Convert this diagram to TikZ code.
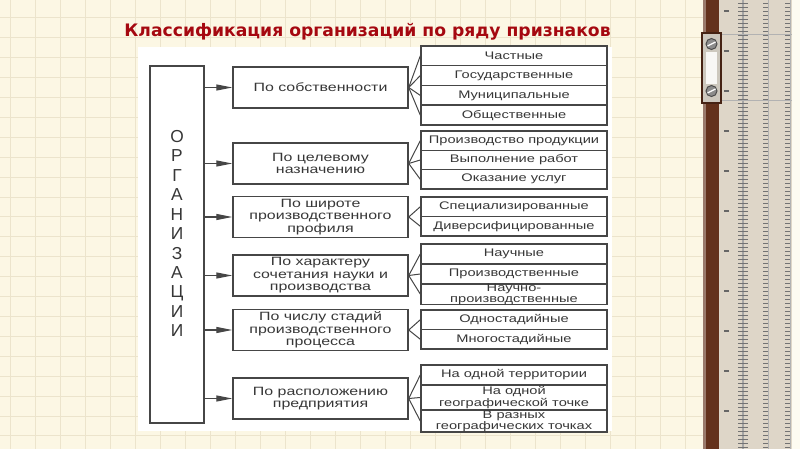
\documentclass[tikz,border=0pt]{standalone}
\usepackage{fontspec}
\setmainfont{Liberation Sans}
\newfontfamily\boxfont[FakeStretch=1.33]{Liberation Sans}
\newfontfamily\titlefont{DejaVu Sans}
\usetikzlibrary{arrows.meta}

\definecolor{paper}{RGB}{252,247,228}
\definecolor{gridcol}{RGB}{236,228,204}
\definecolor{boxline}{RGB}{70,70,70}
\definecolor{boxtext}{RGB}{55,55,55}
\definecolor{titlered}{RGB}{165,8,16}
\definecolor{rulerbrown}{RGB}{100,50,28}
\definecolor{rulerbody}{RGB}{222,214,200}
\definecolor{clipgray}{RGB}{205,200,190}

\tikzset{every picture/.style={line width=0.75pt}}
\tikzset{
  critbox/.style={draw=boxline, line width=1.1pt, minimum width=131.25pt, minimum height=30.75pt, inner sep=0pt, align=center, text=boxtext, font=\boxfont\fontsize{9}{9.3}\selectfont},
  itembox/.style={draw=boxline, line width=1.1pt, minimum width=139.5pt, minimum height=14.8pt, inner sep=0pt, align=center, text=boxtext, font=\boxfont\fontsize{8.25}{8.4}\selectfont},
  feed/.style={draw=boxline, line width=0.8pt, -{Triangle[length=12pt,width=4.5pt]}},
  fan/.style={draw=boxline, line width=0.75pt},
  rulertick/.style={draw=black!55, line width=0.4pt}
}

\begin{document}
\begin{tikzpicture}[x=0.75pt,y=0.75pt,yscale=-1,xscale=1]
\useasboundingbox (0,0) rectangle (800,449);

%Background: squared paper
\fill[paper] (0,0) rectangle (800,449);
\foreach \x in {10,35,...,785} \draw[gridcol] (\x,0) -- (\x,449);
\foreach \k in {0,...,21} \draw[gridcol] (0,18+19.9*\k) -- (800,18+19.9*\k);

%Shape: Rect [white sheet]
\fill[white] (138,47) rectangle (612,431);

%Shape: ruler on the right
\fill[rulerbrown] (703,0) rectangle (719,449);
\fill[rulerbrown!65!white] (703,0) rectangle (705.5,449);
\fill[rulerbody] (719,0) rectangle (792,449);
\fill[paper!50!white] (792,0) rectangle (800,449);
\draw[black!35, line width=1.2pt] (743,0) -- (743,449);
\draw[black!30] (768,0) -- (768,449);
\draw[black!30] (790,0) -- (790,449);
\draw[black!30] (719,35) -- (792,35);
\draw[black!30] (719,101) -- (792,101);
\foreach \y in {3,7,...,449} {
  \draw[rulertick] (738,\y) -- (748,\y);
  \draw[rulertick] (763,\y) -- (768,\y);
  \draw[rulertick] (785,\y) -- (790,\y);
}
\foreach \y in {11,51,...,449} \draw[black!60, line width=1.2pt] (724,\y) -- (729,\y);
%Shape: clip with two screws
\draw[draw=rulerbrown!70!black, fill=clipgray, line width=0.8pt] (702,33) rectangle (721,103);
\fill[white!85!clipgray] (706,52) rectangle (717,84);
\draw[fill=black!45, draw=black!70] (711.5,44) circle (5.5);
\draw[fill=black!45, draw=black!70] (711.5,91) circle (5.5);
\draw[white, line width=1pt] (707.5,46) -- (715.5,42);
\draw[white, line width=1pt] (707.5,93) -- (715.5,89);

% Text Node
\node (title) [text=titlered, font=\titlefont\bfseries\fontsize{12.9}{15}\selectfont] at (367.5,32) {Классификация организаций по ряду признаков};

%Shape: Rect [organizations]
\node (org) [draw=boxline, line width=1.1pt, minimum width=40.5pt, minimum height=267.75pt, inner sep=0pt] at (177,244.5) {};
% Text Node
\node (orgname) [align=center, text=boxtext, font=\fontsize{13}{14.6}\selectfont] at (177,233.5) {О\\Р\\Г\\А\\Н\\И\\З\\А\\Ц\\И\\И};

% Criteria
\node (byOwner) [critbox] at (320.5,87.5) {По собственности};
\node (byPurpose) [critbox] at (320.5,163.5) {По целевому\\назначению};
\node (byProfile) [critbox] at (320.5,217) {По широте\\производственного\\профиля};
\node (byScience) [critbox] at (320.5,275.5) {По характеру\\сочетания науки и\\производства};
\node (byStages) [critbox] at (320.5,330) {По числу стадий\\производственного\\процесса};
\node (byPlace) [critbox] at (320.5,398.5) {По расположению\\предприятия};

% Kinds
\node (owner1) [itembox] at (514,55.9) {Частные};
\node (owner2) [itembox] at (514,75.6) {Государственные};
\node (owner3) [itembox] at (514,95.4) {Муниципальные};
\node (owner4) [itembox] at (514,115.1) {Общественные};

\node (purpose1) [itembox, minimum height=14.5pt] at (514,140.7) {Производство продукции};
\node (purpose2) [itembox, minimum height=14.5pt] at (514,160) {Выполнение работ};
\node (purpose3) [itembox, minimum height=14.5pt] at (514,179.3) {Оказание услуг};

\node (profile1) [itembox, minimum height=14.6pt] at (514,206.75) {Специализированные};
\node (profile2) [itembox, minimum height=14.6pt] at (514,226.25) {Диверсифицированные};

\node (science1) [itembox, minimum height=15pt] at (514,254) {Научные};
\node (science2) [itembox, minimum height=15pt] at (514,274) {Производственные};
\node (science3) [itembox, minimum height=15pt] at (514,294) {Научно-\\производственные};

\node (stages1) [itembox, minimum height=14.6pt] at (514,319.75) {Одностадийные};
\node (stages2) [itembox, minimum height=14.6pt] at (514,339.25) {Многостадийные};

\node (place1) [itembox, minimum height=15pt] at (514,375) {На одной территории};
\node (place2) [itembox, minimum height=18.75pt] at (514,397.5) {На одной\\географической точке};
\node (place3) [itembox, minimum height=16.5pt] at (514,421) {В разных\\географических точках};

%Straight Lines [arrows]
\foreach \c in {byOwner,byPurpose,byProfile,byScience,byStages,byPlace}
  \draw[feed] (org.east |- \c.west) -- (\c.west);

%Straight Lines [fans]
\foreach \k in {owner1,owner2,owner3,owner4} \draw[fan] (byOwner.east) -- (\k.west);
\foreach \k in {purpose1,purpose2,purpose3} \draw[fan] (byPurpose.east) -- (\k.west);
\foreach \k in {profile1,profile2} \draw[fan] (byProfile.east) -- (\k.west);
\foreach \k in {science1,science2,science3} \draw[fan] (byScience.east) -- (\k.west);
\foreach \k in {stages1,stages2} \draw[fan] (byStages.east) -- (\k.west);
\foreach \k in {place1,place2,place3} \draw[fan] (byPlace.east) -- (\k.west);

\end{tikzpicture}
\end{document}
